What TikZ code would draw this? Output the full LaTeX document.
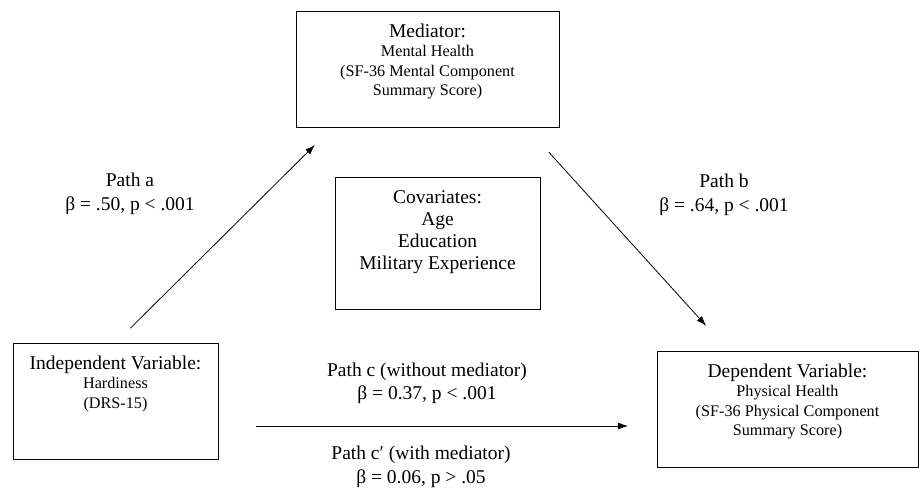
\documentclass[tikz,border=0pt]{standalone}
\usepackage{fontspec}
\setmainfont{Liberation Serif}
\usepackage{tikz}
\usetikzlibrary{arrows.meta, positioning}

\newcommand{\headfont}{\fontsize{19.5}{23.5}\selectfont}
\newcommand{\subfont}{\fontsize{16.2}{19.5}\selectfont}
\newcommand{\boxcontent}[3]{\parbox[c][#2][t]{#1}{\centering\rule{0pt}{26pt}#3}}

\tikzstyle{varbox} = [rectangle, draw=black, line width=1pt, inner sep=0pt, outer sep=0pt]
\tikzstyle{pathlabel} = [align=center, font=\headfont, inner sep=0pt]
\tikzstyle{arrow} = [line width=0.8pt,->,>={Latex[length=10pt,width=7pt]}]

\begin{document}
\begin{tikzpicture}[x=1pt, y=-1pt]

\useasboundingbox (0,0) rectangle (919,488);

\node (med) [varbox] at (427.5,69) {\boxcontent{263pt}{116pt}{\headfont Mediator:\\ \subfont Mental Health\\ (SF-36 Mental Component\\ Summary Score)}};
\node (cov) [varbox] at (437.5,243) {\boxcontent{205pt}{132pt}{\fontsize{19.5}{22.3}\selectfont Covariates:\\ Age\\ Education\\ Military Experience}};
\node (iv) [varbox] at (115.5,401) {\boxcontent{205pt}{116pt}{\headfont Independent Variable:\\ \subfont Hardiness\\ (DRS-15)}};
\node (dv) [varbox] at (787.5,409) {\boxcontent{261pt}{116pt}{\headfont Dependent Variable:\\ \subfont Physical Health\\ (SF-36 Physical Component\\ Summary Score)}};

\node (lblA) [pathlabel] at (130,194) {Path a\\β = .50, p < .001};
\node (lblB) [pathlabel] at (724,195) {Path b\\β = .64, p < .001};
\node (lblC) [pathlabel] at (427,383.5) {Path c (without mediator)\\β = 0.37, p < .001};
\node (lblCp) [pathlabel] at (421,467) {Path c′ (with mediator)\\β = 0.06, p > .05};

\coordinate (cStart) at ([yshift=-25pt]iv.east);

\draw [arrow, shorten <=21pt, shorten >=25.5pt] (iv.north) -- ([xshift=37pt]med.south west);
\draw [arrow, shorten <=34pt, shorten >=34pt] ([xshift=-33pt]med.south east) -- ([xshift=72pt]dv.north west);
\draw [arrow, shorten <=38pt, shorten >=29pt] (cStart) -- (cStart -| dv.west);

\end{tikzpicture}
\end{document}
